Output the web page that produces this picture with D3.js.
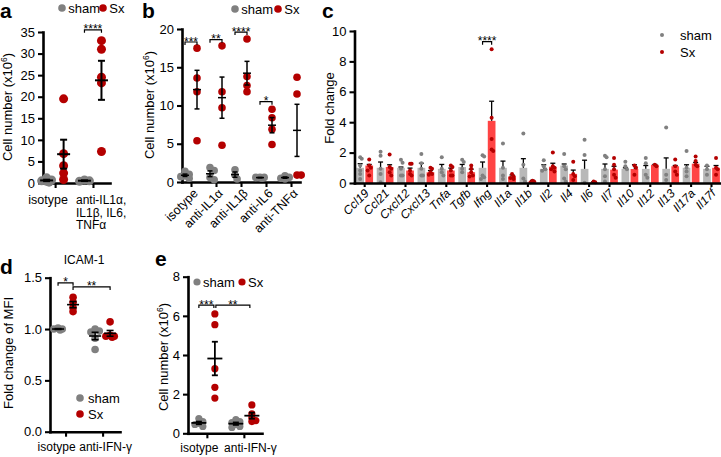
<!DOCTYPE html>
<html><head><meta charset="utf-8">
<script src="https://cdn.jsdelivr.net/npm/d3@7"></script>
<style>
body{margin:0;background:#fff;}
svg{font-family:"Liberation Sans",Arial,Helvetica,sans-serif;}
</style></head><body>
<svg id="chart" width="721" height="457"></svg>
<script>
// ================= DATA =================
// Panel a
const aGroups = ["isotype", "anti-IL1α,|IL1β, IL6,|TNFα"];
const aSham = [[0.5,0.2,0.7,1.2,0.4],[0.7,0.5,0.4]];
const aSx   = [[19.5,6.8,4.0,2.3,0.8],[33.0,31.0,24.5,23.2,7.3]];
const aTicks = [0,5,10,15,20,25,30,35];

// Panel b
const bGroups = ["isotype","anti-IL1α","anti-IL1β","anti-IL6","anti-TNFα"];
const bSham = [[1.0,0.5,0.8,1.4,0.7],[1.9,1.5,0.6,0.3],[1.6,0.9,0.4],[0.6,0.6,0.5,0.6],[0.4,0.5,0.6,0.8]];
const bSx   = [[17.5,13.6,11.8,5.4],[17.8,11.8,9.7,4.8],[18.7,13.8,12.6,11.8],[9.5,8.4,6.9,4.9],[13.7,11.5,0.9,0.9]];
const bTicks = [0,5,10,15,20];
const bSig = ["***","**","****","*",""];
const bSigLevel = [18.3,18.6,19.6,10.5,0];

// Panel c
const cGenes = ["Ccl19","Ccl21","Cxcl12","Cxcl13","Tnfa","Tgfb","Ifng","Il1a","Il1b","Il2","Il4","Il6","Il7","Il10","Il12","Il13","Il17a","Il17f"];
const cShamMean = [1.0,1.0,1.0,1.0,0.93,1.05,1.0,1.0,1.0,0.93,1.15,0.93,0.93,0.93,0.93,0.93,1.0,0.93];
const cShamSem  = [0.27,0.38,0.05,0.3,0.29,0.17,0.38,0.44,0.6,0.27,0.1,0.57,0.32,0.07,0.22,0.72,0.2,0.17];
const cSxMean   = [1.15,1.05,0.82,0.71,0.82,0.71,4.09,0.42,0.12,1.07,0.6,0.05,0.88,0.92,1.2,1.1,1.27,1.0];
const cSxSem    = [0.07,0.15,0.16,0.11,0.16,0.2,1.29,0.11,0.05,0.23,0.25,0.03,0.22,0.28,0.02,0.05,0.08,0.15];
const cShamDots = [
 [1.7,1.6,1.15,0.82,0.6,0.27],[2.05,1.8,0.93,0.6,0.05],[1.53,1.33,0.93,0.5,0.5],[1.9,1.3,0.93,0.5,0.5],
 [1.7,0.93,0.7,0.5],[1.53,1.38,0.93,0.7],[1.82,1.75,0.5,0.38,0.27],[2.6,1.0,0.5,0.27],[3.25,1.2,0.3,0.1],
 [1.5,1.1,0.9,0.8],[1.9,1.1,0.9,0.3,0.1],[2.85,1.85,0.02],[1.8,1.7,0.9,0.45,0.1],[1.4,1.1,0.9],
 [1.65,1.3,0.55,0.35],[3.65,0.55,0.2],[2.1,1.0,0.75,0.45],[1.15,0.9,0.55]];
const cSxDots = [
 [1.55,1.15,1.0,0.82,0.5],[1.87,1.05,0.93,0.7,0.5],[1.27,1.27,0.82,0.6,0.5],[1.0,0.93,0.71,0.6,0.55],
 [1.15,1.05,0.82,0.5,0.5],[1.15,0.93,0.71,0.5,0.42],[8.8,4.3,2.9,2.2,2.1],[0.6,0.42,0.33,0.27],[0.15,0.1,0.05],
 [2.0,1.1,1.0,0.9,0.75],[1.4,0.6,0.45,0.2],[0.1,0.05],[1.65,1.2,0.9,0.55,0.35],[1.15,1.0,0.55],
 [1.2,1.1],[1.55,1.1,0.75,0.55],[1.75,1.45,1.2,1.1],[1.65,1.0,0.9,0.55]];
const cTicks = [0,2,4,6,8,10];

// Panel d
const dGroups = ["isotype","anti-IFN-γ"];
const dSham = [[1.0,0.99,1.01,1.0],[0.98,0.97,1.0,0.91,0.80]];
const dSx   = [[1.31,1.26,1.21,1.17],[1.07,0.94,0.93,0.92,0.93]];
const dTicks = [0,0.5,1.0,1.5];

// Panel e
const eGroups = ["isotype","anti-IFN-γ"];
const eSham = [[0.75,0.6,0.5,0.45,0.35],[0.7,0.55,0.45,0.35,0.3,0.6]];
const eSx   = [[6.1,5.55,3.3,2.35,1.8],[1.45,1.0,0.8,0.6,0.65]];
const eTicks = [0,2,4,6,8];

// ================= DRAW =================
const svg = d3.select("#chart");
const GREY = "#808080", RED = "#b40000";

function styleAxis(sel, lw, fs){
  sel.attr("font-size", null).attr("font-family", null);
  sel.select(".domain").attr("stroke","#000").attr("stroke-width",lw).attr("stroke-linecap","square");
  sel.selectAll(".tick line").attr("stroke","#000").attr("stroke-width",lw*0.8);
  sel.selectAll(".tick text").attr("fill","#000").style("font-size",(fs||12.5)+"px");
}

function swarm(vals, yS, cx, sep, step, maxOff){
  const pts = vals.map(v => ({v, cy: yS(v), cx}));
  const placed = [];
  pts.slice().sort((a,b)=>a.cy-b.cy).forEach(p=>{
    let best = 0, bestD = -1;
    for(let k=0;k<40;k++){
      const o = k===0?0:(k%2?1:-1)*Math.ceil(k/2)*step;
      if(Math.abs(o)>maxOff) continue;
      const dmin = placed.length? d3.min(placed, q=>Math.hypot(q.cx-(cx+o), q.cy-p.cy)) : 1e9;
      if(dmin>=sep){best=o;break;}
      if(dmin>bestD){bestD=dmin;best=o;}
    }
    p.cx = cx+best; placed.push(p);
  });
  return pts;
}

function meanSem(v){ return [d3.mean(v), v.length>1? d3.deviation(v)/Math.sqrt(v.length):0]; }

function errMark(g, cx, m, s, y, mw, cw, lw){
  g.append("line").attr("x1",cx-mw/2).attr("x2",cx+mw/2).attr("y1",y(m)).attr("y2",y(m)).attr("stroke","#000").attr("stroke-width",lw);
  g.append("line").attr("x1",cx).attr("x2",cx).attr("y1",y(m-s)).attr("y2",y(m+s)).attr("stroke","#000").attr("stroke-width",lw);
  [m-s,m+s].forEach(v=>g.append("line").attr("x1",cx-cw/2).attr("x2",cx+cw/2).attr("y1",y(v)).attr("y2",y(v)).attr("stroke","#000").attr("stroke-width",lw));
}

function sig(g, x1, x2, yy, txt, fs){
  g.append("path").attr("d",`M${x1},${yy+3}V${yy}H${x2}V${yy+3}`).attr("fill","none").attr("stroke","#000").attr("stroke-width",1.2);
  g.append("text").attr("x",(x1+x2)/2).attr("y",yy+3.5).attr("text-anchor","middle").style("font-size",(fs||12)+"px").text(txt);
}

function yLabel(g, x, y, parts, fs){
  const t = g.append("text").attr("transform",`translate(${x},${y}) rotate(-90)`).attr("text-anchor","middle").style("font-size",(fs||13)+"px");
  if(typeof parts === "string"){ t.text(parts); return; }
  t.append("tspan").text(parts[0]);
  t.append("tspan").attr("dy",-5).style("font-size","8.5px").text(parts[1]);
  t.append("tspan").attr("dy",5).text(parts[2]);
}

function letter(x, y, s){
  svg.append("text").attr("x",x).attr("y",y).style("font-size","21px").style("font-weight","bold").text(s);
}

function legendRow(g, items, r, fs){
  items.forEach(it=>{
    g.append("circle").attr("cx",it.x).attr("cy",it.y).attr("r",r).attr("fill",it.c);
    g.append("text").attr("x",it.x+r+2.5).attr("y",it.y+4.5).style("font-size",(fs||13)+"px").text(it.t);
  });
}

function dotPanel(o){
  const g = svg.append("g");
  const x = o.x, y = o.y;
  const x0 = x.range()[0], y0 = y.range()[0];
  const ya = g.append("g").attr("transform",`translate(${x0},0)`)
    .call(d3.axisLeft(y).tickValues(o.yTicks).tickFormat(o.yFmt||d3.format("d")).tickSize(5).tickSizeOuter(0).tickPadding(3));
  styleAxis(ya, 2.6, 13);
  const xa = g.append("g").attr("transform",`translate(0,${y0})`)
    .call(d3.axisBottom(x).tickValues(d3.range(o.groups.length)).tickFormat("").tickSize(5).tickSizeOuter(0));
  styleAxis(xa, 2.6);
  o.groups.forEach((grp,i)=>{
    [[o.sham[i],-o.off,GREY],[o.sx[i],o.off,RED]].forEach(([vals,off,col])=>{
      const pts = swarm(vals, y, x(i)+off, o.r*1.05, o.r*0.55, o.maxOff);
      g.selectAll(null).data(pts).enter().append("circle")
        .attr("cx",d=>d.cx).attr("cy",d=>d.cy).attr("r",o.r).attr("fill",col);
    });
  });
  o.groups.forEach((grp,i)=>{
    [[o.sham[i],-o.off],[o.sx[i],o.off]].forEach(([vals,off])=>{
      const [m,s] = meanSem(vals);
      errMark(g, x(i)+off, m, s, y, o.mw, o.cw, o.lw);
    });
  });
  return {g, xa};
}

// ---------- Panel a ----------
{
  const x = d3.scaleLinear().domain([-0.32,1.45]).range([43,110]);
  const y = d3.scaleLinear().domain([0,35]).range([183,32]);
  const {g, xa} = dotPanel({x,y,groups:aGroups,sham:aSham,sx:aSx,yTicks:aTicks,off:8.5,r:4.5,maxOff:6,mw:13,cw:7,lw:2});
  g.append("text").attr("x",x(0)-7).attr("y",204).attr("text-anchor","middle").style("font-size","12.5px").text(aGroups[0]);
  const t1 = g.append("text").attr("x",x(1)-17).attr("y",204).style("font-size","12px");
  aGroups[1].split("|").forEach((s,k)=>t1.append("tspan").attr("x",x(1)-17).attr("dy",k?12.5:0).text(s));
  sig(g, x(1)-8.5, x(1)+8.5, y(35.5), "****", 12);
  yLabel(g, 12, 107, ["Cell number (x10","6",")"], 13);
  legendRow(g, [{x:62,y:8,c:GREY,t:"sham"},{x:103,y:8,c:RED,t:"Sx"}], 3.8, 13);
  letter(0, 18, "a");
}

// ---------- Panel b ----------
{
  const x = d3.scaleLinear().domain([-0.36,4.36]).range([182,300]);
  const y = d3.scaleLinear().domain([0,20]).range([182,29]);
  const {g, xa} = dotPanel({x,y,groups:bGroups,sham:bSham,sx:bSx,yTicks:bTicks,off:6,r:3.8,maxOff:5,mw:8,cw:5,lw:1.5});
  xa.selectAll(".tick").append("text").attr("fill","#000").style("font-size","12.5px")
    .attr("text-anchor","end").attr("transform","translate(4,9) rotate(-45)").attr("dy","0.35em")
    .text(d=>bGroups[d]);
  bGroups.forEach((grp,i)=>{ if(bSig[i]) sig(g, x(i)-6, x(i)+6, y(bSigLevel[i]), bSig[i], 12); });
  yLabel(g, 154, 105, ["Cell number (x10","6",")"], 13);
  legendRow(g, [{x:235,y:9,c:GREY,t:"sham"},{x:278,y:9,c:RED,t:"Sx"}], 3.8, 13);
  letter(142, 18, "b");
}

// ---------- Panel c ----------
{
  const g = svg.append("g");
  const x = d3.scaleBand().domain(cGenes).range([354.5,721.7]).paddingInner(0).paddingOuter(0);
  const xs = d3.scaleBand().domain(["sham","Sx"]).range([0,x.bandwidth()]).paddingInner(0.15).paddingOuter(0.2);
  const y = d3.scaleLinear().domain([0,10]).range([183,31]);
  cGenes.forEach((gn,i)=>{
    [["sham",cShamMean[i],cShamSem[i],"#b8b8b8",cShamDots[i],GREY],["Sx",cSxMean[i],cSxSem[i],"#ff4444",cSxDots[i],RED]].forEach(([k,m,s,fill,dots,dc])=>{
      const bx = x(gn)+xs(k), bw = xs.bandwidth(), cx = bx+bw/2;
      g.append("rect").attr("x",bx).attr("y",y(m)).attr("width",bw).attr("height",y(0)-y(m)).attr("fill",fill);
      g.append("line").attr("x1",cx).attr("x2",cx).attr("y1",y(m)).attr("y2",y(m+s)).attr("stroke","#000").attr("stroke-width",1.3);
      g.append("line").attr("x1",cx-2.5).attr("x2",cx+2.5).attr("y1",y(m+s)).attr("y2",y(m+s)).attr("stroke","#000").attr("stroke-width",1.3);
      const pts = swarm(dots, y, cx, 3.2, 1.6, 3);
      g.selectAll(null).data(pts).enter().append("circle").attr("cx",d=>d.cx).attr("cy",d=>d.cy).attr("r",2).attr("fill",dc);
    });
  });
  const ya = g.append("g").attr("transform","translate(354.5,0)")
    .call(d3.axisLeft(y).tickValues(cTicks).tickSize(5).tickSizeOuter(0).tickPadding(3));
  styleAxis(ya, 2.6, 13);
  const xa = g.append("g").attr("transform",`translate(0,${y(0)})`)
    .call(d3.axisBottom(x).tickSize(4).tickSizeOuter(0).tickFormat(""));
  styleAxis(xa, 2.6);
  xa.selectAll(".tick").append("text").attr("fill","#000").style("font-size","12px").style("font-style","italic")
    .attr("text-anchor","end").attr("transform","translate(2,8) rotate(-45)").attr("dy","0.35em")
    .text(d=>d);
  sig(g, x("Ifng")+xs("sham")+xs.bandwidth()/2, x("Ifng")+xs("Sx")+xs.bandwidth()/2, y(9.3), "****", 12);
  yLabel(g, 334, 108, "Fold change", 13);
  g.append("circle").attr("cx",662).attr("cy",35).attr("r",2).attr("fill",GREY);
  g.append("text").attr("x",680).attr("y",40).style("font-size","13px").text("sham");
  g.append("circle").attr("cx",662).attr("cy",52).attr("r",2).attr("fill",RED);
  g.append("text").attr("x",680).attr("y",57).style("font-size","13px").text("Sx");
  letter(322, 18, "c");
}

// ---------- Panel d ----------
{
  const x = d3.scaleLinear().domain([-0.42,1.47]).range([50,120]);
  const y = d3.scaleLinear().domain([0,1.5]).range([431.7,277.7]);
  const {g, xa} = dotPanel({x,y,groups:dGroups,sham:dSham,sx:dSx,yTicks:dTicks,yFmt:d3.format(".1f"),off:7.5,r:3.8,maxOff:6,mw:12,cw:7,lw:1.6});
  xa.selectAll(".tick").append("text").attr("fill","#000").style("font-size","12px").attr("text-anchor","middle")
    .attr("y",19).text(d=>dGroups[d]).attr("dx",d=>d===0?-9.5:2.5);
  sig(g, x(0)-7.5, x(0)+7.5, y(1.45), "*", 12);
  sig(g, x(0)+7.5, x(1)+7.5, y(1.41), "**", 12);
  g.append("text").attr("x",84).attr("y",264).attr("text-anchor","middle").style("font-size","12px").text("ICAM-1");
  yLabel(g, 13, 353, "Fold change of MFI", 13);
  g.append("circle").attr("cx",80).attr("cy",398).attr("r",3.8).attr("fill",GREY);
  g.append("text").attr("x",88).attr("y",403).style("font-size","13px").text("sham");
  g.append("circle").attr("cx",80).attr("cy",414).attr("r",3.8).attr("fill",RED);
  g.append("text").attr("x",88).attr("y",419).style("font-size","13px").text("Sx");
  letter(0, 274, "d");
}

// ---------- Panel e ----------
{
  const x = d3.scaleLinear().domain([-0.51,1.49]).range([188,262]);
  const y = d3.scaleLinear().domain([0,8]).range([433.3,276.7]);
  const {g, xa} = dotPanel({x,y,groups:eGroups,sham:eSham,sx:eSx,yTicks:eTicks,off:8,r:3.6,maxOff:6,mw:15,cw:6,lw:1.8});
  xa.selectAll(".tick").append("text").attr("fill","#000").style("font-size","12px").attr("text-anchor","middle")
    .attr("y",19).text(d=>eGroups[d]).attr("dx",d=>d===0?-8:6);
  sig(g, x(0)-8, x(0)+7, y(6.55), "***", 12);
  sig(g, x(0)+9, x(1)+6, y(6.55), "**", 12);
  yLabel(g, 168, 357, ["Cell number (x10","6",")"], 13);
  legendRow(g, [{x:197,y:282,c:GREY,t:"sham"},{x:242,y:282,c:RED,t:"Sx"}], 3.6, 13);
  letter(155, 266, "e");
}
</script>
</body></html>
